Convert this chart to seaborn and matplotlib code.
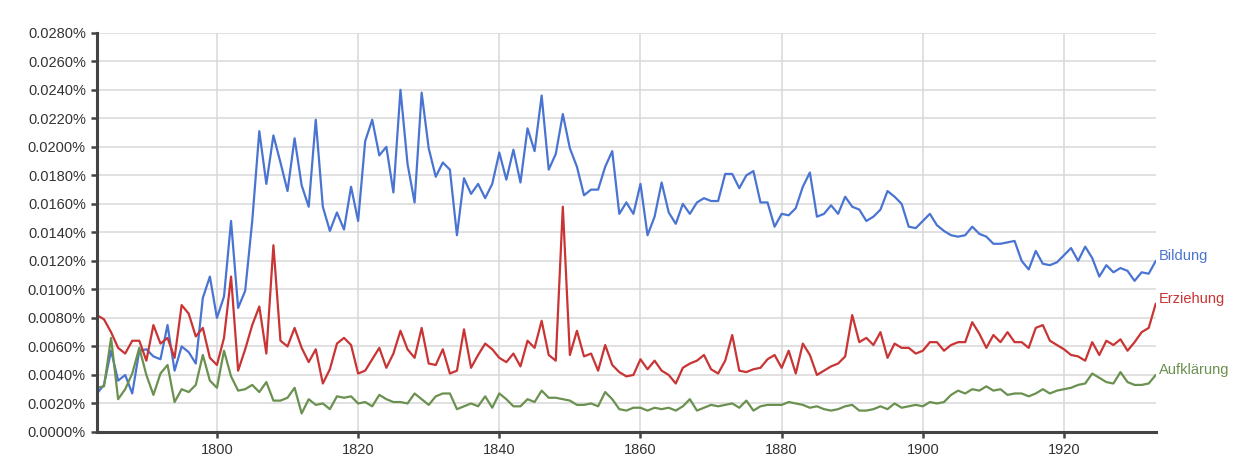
import pandas as pd
import seaborn as sns
from matplotlib import pyplot as plt
from matplotlib.ticker import FuncFormatter

# years 1783-1933, values in percent
years = list(range(1783, 1934))

bildung = [
    0.0027, 0.0033, 0.0057, 0.0036, 0.0040, 0.0027, 0.0057, 0.0058, 0.0053, 0.0051,
    0.0075, 0.0043, 0.0060, 0.0056, 0.0048, 0.0094, 0.0109, 0.0080, 0.0095, 0.0148,
    0.0087, 0.0099, 0.0148, 0.0211, 0.0174, 0.0208, 0.0189, 0.0169, 0.0206, 0.0173,
    0.0158, 0.0219, 0.0158, 0.0141, 0.0154, 0.0142, 0.0172,
    0.0148, 0.0204, 0.0219, 0.0194, 0.0200, 0.0168, 0.0240, 0.0188, 0.0161, 0.0238,
    0.0199, 0.0179, 0.0189, 0.0184, 0.0138, 0.0178, 0.0167, 0.0174, 0.0164, 0.0174,
    0.0196, 0.0177, 0.0198, 0.0175, 0.0213, 0.0197, 0.0236, 0.0184, 0.0195, 0.0223,
    0.0199, 0.0186, 0.0166, 0.0170, 0.0170,
    0.0186, 0.0197, 0.0153, 0.0161, 0.0153, 0.0174, 0.0138, 0.0151, 0.0175, 0.0154,
    0.0146, 0.0160, 0.0153, 0.0161, 0.0164, 0.0162, 0.0162, 0.0181, 0.0181, 0.0171,
    0.0180, 0.0183, 0.0161, 0.0161, 0.0144, 0.0153, 0.0152, 0.0157, 0.0172, 0.0182,
    0.0151, 0.0153, 0.0159, 0.0153,
    0.0165, 0.0158, 0.0156, 0.0148, 0.0151, 0.0156, 0.0169, 0.0165, 0.0160, 0.0144,
    0.0143, 0.0148, 0.0153, 0.0145, 0.0141, 0.0138, 0.0137, 0.0138, 0.0144, 0.0139,
    0.0137, 0.0132, 0.0132, 0.0133, 0.0134, 0.0120, 0.0114, 0.0127, 0.0118, 0.0117,
    0.0119, 0.0124, 0.0129, 0.0120, 0.0130, 0.0122, 0.0109, 0.0117, 0.0112, 0.0115,
    0.0113, 0.0106, 0.0112, 0.0111, 0.0120,
]

erziehung = [
    0.0082, 0.0079, 0.0070, 0.0059, 0.0055, 0.0064, 0.0064, 0.0050, 0.0075, 0.0062,
    0.0066, 0.0052, 0.0089, 0.0083, 0.0067, 0.0073, 0.0052, 0.0047, 0.0066, 0.0109,
    0.0043, 0.0058, 0.0075, 0.0088, 0.0055, 0.0131, 0.0064, 0.0060, 0.0073, 0.0059,
    0.0049, 0.0058, 0.0034, 0.0044, 0.0062, 0.0066, 0.0061,
    0.0041, 0.0043, 0.0051, 0.0059, 0.0045, 0.0055, 0.0071, 0.0058, 0.0052, 0.0073,
    0.0048, 0.0047, 0.0058, 0.0041, 0.0043, 0.0072, 0.0045, 0.0054, 0.0062, 0.0058,
    0.0052, 0.0049, 0.0055, 0.0046, 0.0064, 0.0059, 0.0078, 0.0054, 0.0050, 0.0158,
    0.0054, 0.0071, 0.0053, 0.0055, 0.0043,
    0.0061, 0.0047, 0.0042, 0.0039, 0.0040, 0.0051, 0.0044, 0.0050, 0.0043, 0.0040,
    0.0034, 0.0045, 0.0048, 0.0050, 0.0054, 0.0044, 0.0041, 0.0050, 0.0068, 0.0043,
    0.0042, 0.0044, 0.0045, 0.0051, 0.0054, 0.0045, 0.0057, 0.0041, 0.0062, 0.0054,
    0.0040, 0.0043, 0.0046, 0.0048,
    0.0053, 0.0082, 0.0063, 0.0066, 0.0061, 0.0070, 0.0052, 0.0062, 0.0059, 0.0059,
    0.0055, 0.0057, 0.0063, 0.0063, 0.0057, 0.0061, 0.0063, 0.0063, 0.0077, 0.0069,
    0.0059, 0.0068, 0.0063, 0.0070, 0.0063, 0.0063, 0.0059, 0.0073, 0.0075, 0.0064,
    0.0061, 0.0058, 0.0054, 0.0053, 0.0050, 0.0063, 0.0054, 0.0064, 0.0061, 0.0065,
    0.0057, 0.0063, 0.0070, 0.0073, 0.0090,
]

aufklaerung = [
    0.0031, 0.0032, 0.0066, 0.0023, 0.0030, 0.0041, 0.0059, 0.0040, 0.0026, 0.0041,
    0.0047, 0.0021, 0.0030, 0.0028, 0.0033, 0.0054, 0.0036, 0.0031, 0.0057, 0.0039,
    0.0029, 0.0030, 0.0033, 0.0028, 0.0035, 0.0022, 0.0022, 0.0024, 0.0031, 0.0013,
    0.0023, 0.0019, 0.0020, 0.0016, 0.0025, 0.0024, 0.0025,
    0.0020, 0.0021, 0.0018, 0.0026, 0.0023, 0.0021, 0.0021, 0.0020, 0.0027, 0.0023,
    0.0019, 0.0025, 0.0027, 0.0027, 0.0016, 0.0018, 0.0020, 0.0018, 0.0025, 0.0017,
    0.0027, 0.0023, 0.0018, 0.0018, 0.0023, 0.0021, 0.0029, 0.0024, 0.0024, 0.0023,
    0.0022, 0.0019, 0.0019, 0.0020, 0.0018,
    0.0028, 0.0023, 0.0016, 0.0015, 0.0017, 0.0017, 0.0015, 0.0017, 0.0016, 0.0017,
    0.0015, 0.0018, 0.0023, 0.0015, 0.0017, 0.0019, 0.0018, 0.0019, 0.0020, 0.0017,
    0.0022, 0.0015, 0.0018, 0.0019, 0.0019, 0.0019, 0.0021, 0.0020, 0.0019, 0.0017,
    0.0018, 0.0016, 0.0015, 0.0016,
    0.0018, 0.0019, 0.0015, 0.0015, 0.0016, 0.0018, 0.0016, 0.0020, 0.0017, 0.0018,
    0.0019, 0.0018, 0.0021, 0.0020, 0.0021, 0.0026, 0.0029, 0.0027, 0.0030, 0.0029,
    0.0032, 0.0029, 0.0030, 0.0026, 0.0027, 0.0027, 0.0025, 0.0027, 0.0030, 0.0027,
    0.0029, 0.0030, 0.0031, 0.0033, 0.0034, 0.0041, 0.0038, 0.0035, 0.0034, 0.0042,
    0.0035, 0.0033, 0.0033, 0.0034, 0.0040,
]

names = ["Bildung", "Erziehung", "Aufklärung"]
colors = {"Bildung": "#4a74d2", "Erziehung": "#c93434", "Aufklärung": "#6a914f"}

df = pd.concat([
    pd.DataFrame({"year": years, "value": vals, "word": name})
    for name, vals in zip(names, [bildung, erziehung, aufklaerung])
])

sns.set_style("white")
plt.rcParams["font.family"] = ["Liberation Sans", "DejaVu Sans"]

fig = plt.figure(figsize=(12.59, 4.62), dpi=100)
ax = fig.add_axes([0.077, 0.065, 0.841, 0.864])

sns.lineplot(data=df, x="year", y="value", hue="word", palette=colors,
             linewidth=1.6, legend=False, ax=ax)

ax.set_xlim(1783, 1933)
ax.set_ylim(0, 0.028)
ax.set_xticks(range(1800, 1921, 20))
ax.set_yticks([i * 0.002 for i in range(15)])
ax.yaxis.set_major_formatter(FuncFormatter(lambda v, p: f"{v:.4f}%"))
ax.grid(True, color="#d9d9d9", linewidth=1.1)
ax.set_axisbelow(True)
ax.set_xlabel("")
ax.set_ylabel("")

for s in ["top", "right"]:
    ax.spines[s].set_visible(False)
for s in ["left", "bottom"]:
    ax.spines[s].set_color("#444444")
    ax.spines[s].set_linewidth(2.2)
ax.tick_params(axis="both", direction="out", length=4, width=1.8, color="#444444",
               labelsize=10.5, labelcolor="#333333", pad=4, left=True, bottom=True)

# series labels at the end of each line
for name, vals in zip(names, [bildung, erziehung, aufklaerung]):
    ax.annotate(name, xy=(years[-1], vals[-1]), xytext=(3, 5),
                textcoords="offset pixels", color=colors[name], fontsize=10.5,
                va="center", ha="left", annotation_clip=False)

fig.savefig("out.png", dpi=100)
